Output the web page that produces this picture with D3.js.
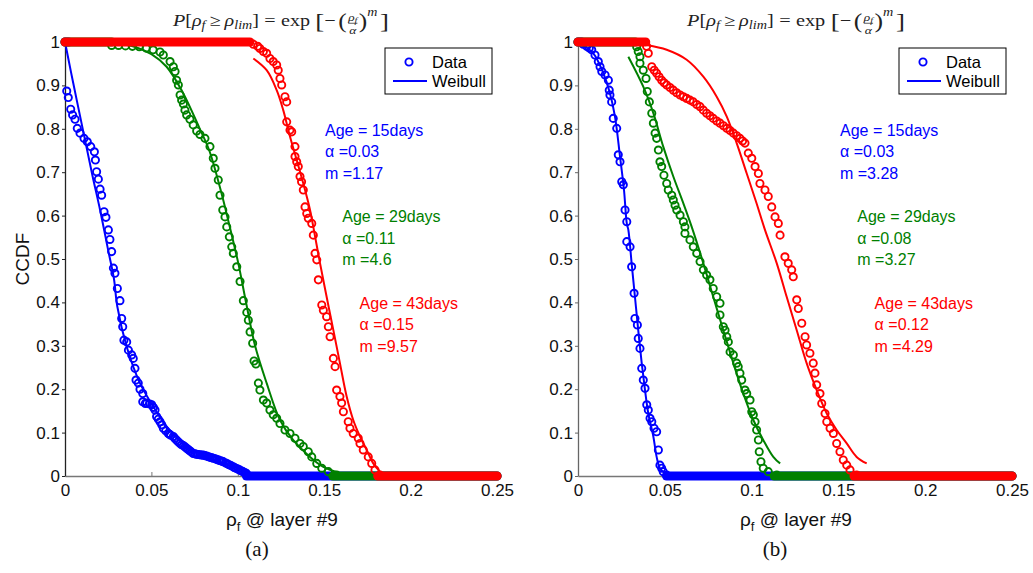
<!DOCTYPE html>
<html><head><meta charset="utf-8">
<script src="https://cdn.jsdelivr.net/npm/d3@7"></script>
<style>body{margin:0;background:#fff}svg{display:block}</style>
</head><body><svg id="c" width="1033" height="573"></svg>
<script>
// ---------- data ----------
const xTicks = [0, 0.05, 0.1, 0.15, 0.2, 0.25];
const xTickLabels = ["0", "0.05", "0.1", "0.15", "0.2", "0.25"];
const yTicks = [0, 0.1, 0.2, 0.3, 0.4, 0.5, 0.6, 0.7, 0.8, 0.9, 1];
const yTickLabels = ["0", "0.1", "0.2", "0.3", "0.4", "0.5", "0.6", "0.7", "0.8", "0.9", "1"];
const ages = ["Age = 15days", "Age = 29days", "Age = 43days"];
const alphaA = ["0.03", "0.11", "0.15"];
const mA = ["1.17", "4.6", "9.57"];
const alphaB = ["0.03", "0.08", "0.12"];
const mB = ["3.28", "3.27", "4.29"];
const legendLabels = ["Data", "Weibull"];
const captions = ["(a)", "(b)"];

// dense runs of markers: [x start, x end, y]
const bandsA_blue = [[0, 0.002, 1], [0.105, 0.25, 0]];
const bandsA_green = [[0, 0.027, 1], [0.155, 0.25, 0]];
const bandsA_red = [[0, 0.107, 1], [0.181, 0.25, 0]];
const bandsB_blue = [[0, 0.002, 1], [0.051, 0.25, 0]];
const bandsB_green = [[0, 0.033, 1], [0.113, 0.25, 0]];
const bandsB_red = [[0, 0.039, 1], [0.159, 0.25, 0]];

// panel (a) data points [x, CCDF]
const dataA_blue = [[0.001,0.887],[0.0019,0.872],[0.0033,0.845],[0.0044,0.832],[0.0058,0.822],[0.0071,0.801],[0.0087,0.79],[0.011,0.778],[0.0129,0.77],[0.0149,0.759],[0.017,0.747],[0.0176,0.728],[0.0183,0.701],[0.0193,0.684],[0.0203,0.661],[0.0212,0.647],[0.0226,0.609],[0.0237,0.596],[0.0251,0.567],[0.026,0.545],[0.027,0.517],[0.028,0.479],[0.0289,0.467],[0.0303,0.432],[0.0318,0.404],[0.0328,0.363],[0.0334,0.344],[0.0341,0.313],[0.0357,0.309],[0.0367,0.29],[0.0386,0.279],[0.0395,0.271],[0.0405,0.248],[0.0411,0.221],[0.0424,0.214],[0.0434,0.2],[0.045,0.19],[0.045,0.171],[0.0465,0.167],[0.0473,0.168],[0.049,0.166],[0.0502,0.164],[0.0512,0.158],[0.0521,0.152],[0.053,0.137],[0.054,0.131],[0.055,0.125],[0.056,0.118],[0.0569,0.11],[0.0583,0.104],[0.0598,0.098],[0.0605,0.096],[0.0612,0.094],[0.0627,0.091],[0.0635,0.087],[0.0645,0.083],[0.0655,0.079],[0.0666,0.075],[0.0675,0.072],[0.0685,0.07],[0.0695,0.067],[0.0704,0.064],[0.0713,0.061],[0.0722,0.058],[0.0732,0.055],[0.0742,0.052],[0.0752,0.051],[0.0762,0.05],[0.077,0.0495],[0.078,0.049],[0.079,0.0485],[0.08,0.048],[0.081,0.047],[0.082,0.046],[0.083,0.0445],[0.084,0.043],[0.085,0.042],[0.0858,0.041],[0.087,0.0395],[0.088,0.038],[0.089,0.0365],[0.09,0.035],[0.091,0.034],[0.0916,0.033],[0.093,0.03],[0.094,0.028],[0.095,0.026],[0.096,0.024],[0.0974,0.021],[0.098,0.0195],[0.099,0.018],[0.1,0.016],[0.101,0.014],[0.102,0.012],[0.103,0.01],[0.104,0.008],[0.105,0.006]];
const dataA_green = [[0.027,0.992],[0.031,0.992],[0.035,0.991],[0.039,0.99],[0.043,0.989],[0.047,0.986],[0.051,0.982],[0.055,0.977],[0.0569,0.97],[0.0608,0.955],[0.0627,0.943],[0.0637,0.932],[0.0646,0.912],[0.0656,0.901],[0.0666,0.878],[0.0675,0.866],[0.0685,0.857],[0.0694,0.843],[0.0704,0.832],[0.0723,0.822],[0.0742,0.809],[0.0762,0.795],[0.0781,0.787],[0.081,0.778],[0.0839,0.759],[0.0858,0.732],[0.0868,0.709],[0.0887,0.682],[0.0897,0.647],[0.0913,0.613],[0.0926,0.597],[0.0936,0.574],[0.0951,0.551],[0.0965,0.528],[0.0974,0.513],[0.0994,0.482],[0.1013,0.448],[0.1032,0.404],[0.1052,0.377],[0.1061,0.359],[0.1071,0.332],[0.1086,0.306],[0.1094,0.265],[0.1105,0.258],[0.1119,0.214],[0.1128,0.198],[0.1148,0.175],[0.1167,0.168],[0.1186,0.152],[0.1205,0.141],[0.1225,0.133],[0.1244,0.121],[0.1273,0.106],[0.1302,0.098],[0.1331,0.087],[0.136,0.075],[0.1379,0.068],[0.1408,0.056],[0.1428,0.044],[0.1457,0.029],[0.1486,0.018],[0.1524,0.01],[0.1572,0.002]];
const dataA_red = [[0.109,0.995],[0.1115,0.99],[0.1128,0.985],[0.1148,0.978],[0.1167,0.974],[0.1186,0.962],[0.1205,0.955],[0.1225,0.947],[0.1234,0.935],[0.1244,0.916],[0.1254,0.901],[0.1273,0.874],[0.1283,0.862],[0.1283,0.816],[0.1302,0.797],[0.1312,0.793],[0.1331,0.759],[0.1331,0.736],[0.1341,0.724],[0.135,0.713],[0.136,0.69],[0.1369,0.678],[0.1379,0.659],[0.1389,0.62],[0.1399,0.605],[0.1408,0.594],[0.1428,0.582],[0.1437,0.555],[0.1447,0.513],[0.1457,0.498],[0.1466,0.452],[0.1486,0.394],[0.1495,0.382],[0.1514,0.367],[0.1524,0.344],[0.1534,0.321],[0.1553,0.271],[0.1563,0.252],[0.1572,0.198],[0.1591,0.183],[0.1601,0.168],[0.1611,0.148],[0.1639,0.125],[0.1649,0.11],[0.1668,0.098],[0.1697,0.087],[0.1707,0.075],[0.1726,0.06],[0.1755,0.044],[0.1775,0.029],[0.1794,0.014],[0.1823,0.002]];
// panel (a) Weibull fits
const fitA_blue = [[0,1],[0.0035,0.93],[0.0068,0.866],[0.0116,0.774],[0.016,0.69],[0.0203,0.613],[0.025,0.52],[0.0283,0.455],[0.0303,0.39],[0.0357,0.298],[0.0434,0.214],[0.0511,0.16],[0.0589,0.114],[0.0685,0.075],[0.082,0.044],[0.0972,0.021],[0.107,0.008]];
const fitA_green = [[0.028,0.998],[0.041,0.988],[0.05,0.972],[0.0588,0.943],[0.068,0.885],[0.078,0.8],[0.0835,0.75],[0.09,0.66],[0.095,0.58],[0.1003,0.49],[0.105,0.395],[0.11,0.3],[0.1167,0.214],[0.1244,0.129],[0.132,0.083],[0.1418,0.044],[0.1495,0.021],[0.158,0.008]];
const fitA_red = [[0.109,0.962],[0.1167,0.935],[0.1225,0.889],[0.1263,0.843],[0.1302,0.782],[0.1341,0.728],[0.1379,0.674],[0.1418,0.613],[0.1437,0.574],[0.1476,0.49],[0.1514,0.413],[0.1553,0.336],[0.1591,0.26],[0.163,0.183],[0.1668,0.129],[0.1707,0.091],[0.1746,0.06],[0.1784,0.029],[0.1823,0.01]];

// panel (b)
const dataB_blue = [[0.003,0.995],[0.005,0.99],[0.0065,0.986],[0.0079,0.982],[0.0098,0.97],[0.0117,0.955],[0.0127,0.943],[0.0137,0.932],[0.0156,0.924],[0.0175,0.912],[0.018,0.889],[0.0184,0.878],[0.0194,0.862],[0.0203,0.824],[0.0223,0.801],[0.0232,0.74],[0.0242,0.724],[0.0252,0.678],[0.0261,0.671],[0.0271,0.613],[0.0281,0.586],[0.0281,0.54],[0.03,0.528],[0.0309,0.482],[0.0323,0.421],[0.0328,0.363],[0.0342,0.348],[0.0347,0.317],[0.0357,0.294],[0.0367,0.248],[0.0376,0.221],[0.0386,0.202],[0.0396,0.164],[0.0405,0.152],[0.0415,0.133],[0.0425,0.125],[0.0438,0.11],[0.0453,0.102],[0.0463,0.06],[0.0472,0.025],[0.0482,0.018],[0.0491,0.01],[0.0511,0.002]];
const dataB_green = [[0.0338,0.989],[0.0347,0.978],[0.0357,0.966],[0.0357,0.951],[0.0376,0.935],[0.0392,0.916],[0.0399,0.886],[0.0411,0.862],[0.0425,0.836],[0.0434,0.813],[0.0444,0.79],[0.0453,0.778],[0.0463,0.751],[0.0472,0.724],[0.0482,0.713],[0.0495,0.693],[0.0511,0.674],[0.052,0.659],[0.054,0.647],[0.0549,0.636],[0.0559,0.624],[0.0569,0.613],[0.0588,0.601],[0.0607,0.586],[0.0616,0.574],[0.0616,0.559],[0.0645,0.544],[0.0664,0.528],[0.0684,0.513],[0.0703,0.494],[0.0722,0.475],[0.0741,0.463],[0.076,0.452],[0.0779,0.432],[0.0799,0.413],[0.0818,0.398],[0.0818,0.371],[0.0837,0.344],[0.0847,0.336],[0.0857,0.321],[0.0866,0.309],[0.0876,0.286],[0.0895,0.279],[0.0914,0.26],[0.0923,0.252],[0.0933,0.237],[0.0943,0.221],[0.0962,0.198],[0.0972,0.19],[0.0991,0.175],[0.1001,0.148],[0.101,0.141],[0.102,0.125],[0.1029,0.106],[0.1039,0.083],[0.1044,0.056],[0.1054,0.033],[0.1067,0.018],[0.1096,0.01],[0.1145,0.002]];
const dataB_red = [[0.0395,0.99],[0.0405,0.974],[0.0425,0.943],[0.0439,0.935],[0.0453,0.928],[0.0467,0.92],[0.0482,0.912],[0.0496,0.906],[0.0511,0.901],[0.053,0.895],[0.0549,0.889],[0.0568,0.883],[0.0588,0.878],[0.0607,0.874],[0.0626,0.87],[0.0645,0.866],[0.0664,0.862],[0.0684,0.856],[0.0703,0.851],[0.0722,0.843],[0.0741,0.836],[0.076,0.83],[0.0779,0.824],[0.0799,0.818],[0.0818,0.813],[0.0838,0.807],[0.0857,0.801],[0.0876,0.796],[0.0895,0.79],[0.0914,0.784],[0.0933,0.778],[0.0948,0.772],[0.0962,0.767],[0.0981,0.744],[0.1001,0.732],[0.102,0.713],[0.1039,0.697],[0.1048,0.674],[0.1077,0.659],[0.1096,0.644],[0.1116,0.62],[0.1135,0.597],[0.1154,0.582],[0.1164,0.555],[0.1192,0.505],[0.1211,0.49],[0.1231,0.475],[0.124,0.459],[0.126,0.406],[0.1269,0.386],[0.1289,0.352],[0.1308,0.321],[0.1317,0.302],[0.1336,0.283],[0.1355,0.26],[0.1365,0.237],[0.1375,0.21],[0.1394,0.19],[0.1404,0.167],[0.1423,0.144],[0.1433,0.125],[0.1452,0.11],[0.1471,0.098],[0.149,0.075],[0.1509,0.056],[0.1528,0.037],[0.1548,0.025],[0.1567,0.014],[0.1605,0.002]];
const fitB_blue = [[0,1],[0.0088,0.974],[0.0146,0.928],[0.0184,0.882],[0.0213,0.828],[0.0242,0.736],[0.0265,0.659],[0.0281,0.582],[0.029,0.567],[0.0309,0.49],[0.0328,0.413],[0.0347,0.336],[0.0367,0.26],[0.0386,0.198],[0.0405,0.144],[0.0434,0.091],[0.0453,0.044],[0.0472,0.018],[0.0501,0.006]];
const fitB_green = [[0.029,0.966],[0.0376,0.897],[0.0434,0.836],[0.0491,0.759],[0.0549,0.69],[0.0607,0.628],[0.0655,0.574],[0.0722,0.49],[0.0779,0.413],[0.0837,0.336],[0.0895,0.26],[0.0952,0.19],[0.101,0.129],[0.1067,0.083],[0.1125,0.044],[0.1164,0.029]];
const fitB_red = [[0.0396,0.993],[0.0511,0.982],[0.0626,0.959],[0.0722,0.92],[0.0799,0.874],[0.0857,0.828],[0.0914,0.767],[0.0972,0.697],[0.1029,0.628],[0.1077,0.567],[0.1145,0.49],[0.1202,0.413],[0.126,0.336],[0.1317,0.26],[0.1375,0.198],[0.1433,0.144],[0.149,0.106],[0.1548,0.075],[0.1605,0.044],[0.1663,0.029]];

// ---------- drawing ----------
const colors = ["#0000ff", "#008000", "#ff0000"];
const SANS = "'Liberation Sans', Arial, sans-serif";
const SERIF = "'Liberation Serif', 'DejaVu Serif', serif";
const svg = d3.select("#c");
svg.append("rect").attr("width", 1033).attr("height", 573).attr("fill", "#fff");

const panels = [
  { left: 65, right: 497, ylabel: true, data: [dataA_blue, dataA_green, dataA_red], bands: [bandsA_blue, bandsA_green, bandsA_red], fits: [fitA_blue, fitA_green, fitA_red], alpha: alphaA, m: mA, annX: 325, legX: 385, tx0: 173, tx1: 389, cap: captions[0], capX: 257 },
  { left: 578, right: 1012, ylabel: false, data: [dataB_blue, dataB_green, dataB_red], bands: [bandsB_blue, bandsB_green, bandsB_red], fits: [fitB_blue, fitB_green, fitB_red], alpha: alphaB, m: mB, annX: 840, legX: 899, tx0: 687, tx1: 905, cap: captions[1], capX: 775 }
];
const R = 3.6, SW = 1.9;

function formula(x0, x1, baseY) {
  const outer = svg.append("g");
  const g = outer.append("g");
  let xpos = 0;
  function add(t, o) {
    const el = g.append("text").attr("x", xpos).attr("y", (o.dy || 0)).text(t)
      .style("white-space", "pre")
      .attr("font-family", SERIF).attr("font-size", o.size || 15)
      .attr("font-style", o.it ? "italic" : "normal").attr("fill", "#222");
    xpos += el.node().getComputedTextLength() + (o.gap || 0);
  }
  add("P", { it: 1 }); add("[", {}); add("ρ", { it: 1 }); add("f", { it: 1, size: 10.5, dy: 3, gap: 3 });
  add("≥", { gap: 3 }); add("ρ", { it: 1 }); add("lim", { it: 1, size: 10.5, dy: 3 }); add("]", { gap: 4 });
  add("=", { gap: 4 }); add("exp", { gap: 4 });
  add("[", { size: 20, dy: 2 }); add("−", { gap: 2 }); add("(", { size: 19, dy: 2 });
  const fx = xpos + 1;
  const num = g.append("text").attr("x", fx).attr("y", -5).attr("font-family", SERIF).attr("font-size", 10).attr("font-style", "italic").attr("fill", "#222");
  num.append("tspan").text("ρ");
  num.append("tspan").attr("font-size", 7.5).attr("dy", 2).text("f");
  const nw = num.node().getComputedTextLength();
  g.append("text").attr("x", fx + nw / 2).attr("y", 7).attr("text-anchor", "middle").attr("font-family", SERIF).attr("font-size", 10).attr("font-style", "italic").attr("fill", "#222").text("α");
  g.append("line").attr("x1", fx).attr("x2", fx + nw).attr("y1", -2.5).attr("y2", -2.5).attr("stroke", "#222").attr("stroke-width", 0.6);
  xpos = fx + nw + 1;
  add(")", { size: 19, dy: 2 }); add("m", { it: 1, size: 10.5, dy: -9, gap: 2 }); add("]", { size: 20, dy: 2 });
  const s = (x1 - x0) / xpos;
  outer.attr("transform", `translate(${x0},${baseY}) scale(${s},${Math.min(s, 1.1)})`);
}

panels.forEach(p => {
  const x = d3.scaleLinear().domain([0, 0.25]).range([p.left, p.right]);
  const y = d3.scaleLinear().domain([0, 1]).range([476, 42]);
  const g = svg.append("g");

  // axes
  const gx = g.append("g").attr("transform", "translate(0,476)")
    .call(d3.axisBottom(x).tickValues(xTicks).tickFormat((d, i) => xTickLabels[i]).tickSizeInner(-4).tickSizeOuter(0).tickPadding(8));
  const gy = g.append("g").attr("transform", `translate(${p.left},0)`)
    .call(d3.axisLeft(y).tickValues(yTicks).tickFormat((d, i) => yTickLabels[i]).tickSizeInner(3).tickSizeOuter(0).tickPadding(2));
  gx.select(".domain").attr("stroke", "#777").attr("stroke-width", 1.3);
  gx.selectAll(".tick line").attr("stroke", "#777");
  gy.select(".domain").attr("stroke", p.ylabel ? "#222" : "#666").attr("stroke-width", 1.3);
  gy.selectAll(".tick line").attr("stroke", p.ylabel ? "#222" : "#666");
  [gx, gy].forEach(a => a.selectAll("text").attr("font-family", SANS).attr("font-size", 17).attr("fill", "#111"));

  // series
  const lineC = d3.line().x(d => x(d[0])).y(d => y(d[1])).curve(d3.curveCatmullRom);
  [0, 1, 2].forEach(k => {
    const c = colors[k];
    const sg = g.append("g");
    p.bands[k].forEach(b => {
      sg.append("line").attr("x1", x(b[0])).attr("x2", x(b[1])).attr("y1", y(b[2])).attr("y2", y(b[2]))
        .attr("stroke", c).attr("stroke-width", 2 * R + SW).attr("stroke-linecap", "round");
    });
    sg.selectAll("circle").data(p.data[k]).join("circle")
      .attr("cx", d => x(d[0])).attr("cy", d => y(d[1])).attr("r", R)
      .attr("fill", "none").attr("stroke", c).attr("stroke-width", SW);
    sg.append("path").attr("d", lineC(p.fits[k])).attr("fill", "none").attr("stroke", c).attr("stroke-width", 2);
  });

  // annotations
  [0, 1, 2].forEach(k => {
    const ax = p.annX + k * 17.3, ay = 130 + k * 86.5;
    const lines = [ages[k], "α =" + p.alpha[k], "m =" + p.m[k]];
    lines.forEach((t, j) => {
      g.append("text").attr("x", ax).attr("y", ay + j * 21.5).attr("dy", "0.35em")
        .attr("font-family", SANS).attr("font-size", 16).attr("fill", colors[k]).text(t);
    });
  });

  // legend
  const lg = g.append("g").attr("transform", `translate(${p.legX},48)`);
  lg.append("rect").attr("x", 0).attr("y", 0).attr("width", 107).attr("height", 46).attr("fill", "#fff").attr("stroke", "#000").attr("stroke-width", 1);
  lg.append("circle").attr("cx", 24).attr("cy", 14).attr("r", R).attr("fill", "none").attr("stroke", colors[0]).attr("stroke-width", SW);
  lg.append("line").attr("x1", 8).attr("x2", 42).attr("y1", 33).attr("y2", 33).attr("stroke", colors[0]).attr("stroke-width", 2);
  legendLabels.forEach((t, j) => {
    lg.append("text").attr("x", 47).attr("y", 14 + j * 19).attr("dy", "0.35em").attr("font-family", SANS).attr("font-size", 16.5).attr("fill", "#000").text(t);
  });

  // axis labels
  const xl = g.append("text").attr("x", (p.left + p.right) / 2 + 1).attr("y", 526).attr("text-anchor", "middle")
    .attr("font-family", SANS).attr("font-size", 19).attr("fill", "#111");
  xl.append("tspan").text("ρ");
  xl.append("tspan").attr("font-size", 13).attr("dy", 5).text("f");
  xl.append("tspan").attr("dy", -5).text(" @ layer #9");
  if (p.ylabel) {
    g.append("text").attr("transform", "translate(29,259) rotate(-90)").attr("text-anchor", "middle")
      .attr("font-family", SANS).attr("font-size", 19).attr("fill", "#111").text("CCDF");
  }
  // caption
  g.append("text").attr("x", p.capX).attr("y", 556).attr("text-anchor", "middle")
    .attr("font-family", SERIF).attr("font-size", 21).attr("fill", "#111").text(p.cap);

  formula(p.tx0, p.tx1, 26);
});
</script></body></html>
